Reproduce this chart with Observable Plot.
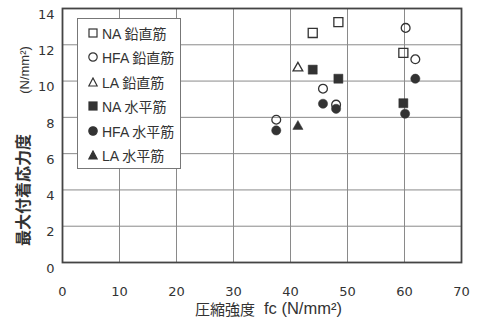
<!DOCTYPE html>
<html><head><meta charset="utf-8">
<script src="https://cdn.jsdelivr.net/npm/d3@7"></script>
<script src="https://cdn.jsdelivr.net/npm/@observablehq/plot@0.6"></script>
<style>
body{margin:0;background:#fff;}
#wrap{position:relative;width:477px;height:320px;overflow:hidden;}
#legend{position:absolute;left:77px;top:18px;width:104px;height:151px;background:#fff;border:1px solid #777;box-sizing:border-box;font-family:"Liberation Sans","Noto Sans CJK JP",sans-serif;font-size:14px;color:#333;}
.row{position:absolute;left:10px;height:18px;display:flex;align-items:center;white-space:nowrap;}
.row svg{margin-right:4px;}
.ttl{position:absolute;white-space:nowrap;line-height:1;color:#333;}
.rot{transform:translate(-50%,-50%) rotate(-90deg);}
</style></head><body><div id="wrap"></div>
<script>
// Data (compressive strength fc, max bond stress τ)
const naV_fc  = [43.9, 48.4, 59.8];
const naV_tau = [12.65, 13.25, 11.55];
const hfaV_fc  = [37.5, 45.7, 48.0, 60.2, 61.9];
const hfaV_tau = [7.87, 9.58, 8.7, 12.93, 11.2];
const laV_fc  = [41.3];
const laV_tau = [10.72];
const naH_fc  = [43.9, 48.4, 59.8];
const naH_tau = [10.63, 10.13, 8.78];
const hfaH_fc  = [37.5, 45.7, 48.0, 60.1, 61.9];
const hfaH_tau = [7.28, 8.75, 8.47, 8.2, 10.13];
const laH_fc  = [41.3];
const laH_tau = [7.5];

const seriesNames = ["NA 鉛直筋", "HFA 鉛直筋", "LA 鉛直筋", "NA 水平筋", "HFA 水平筋", "LA 水平筋"];
const xTicks = [0, 10, 20, 30, 40, 50, 60, 70];
const yTicks = [0, 2, 4, 6, 8, 10, 12, 14];
const xTitleA = "圧縮強度";
const xTitleB = "fc (N/mm²)";
const yTitleA = "最大付着応力度";
const yTitleB = "(N/mm²)";

const toRows = (xs, ys) => xs.map((x, i) => ({fc: x, tau: ys[i]}));
const series = [
  {data: toRows(naV_fc, naV_tau), symbol: "square", filled: false, r: 5.1},
  {data: toRows(hfaV_fc, hfaV_tau), symbol: "circle", filled: false, r: 4.4},
  {data: toRows(laV_fc, laV_tau), symbol: "triangle", filled: false, r: 3.6},
  {data: toRows(naH_fc, naH_tau), symbol: "square", filled: true, r: 5.1},
  {data: toRows(hfaH_fc, hfaH_tau), symbol: "circle", filled: true, r: 4.6},
  {data: toRows(laH_fc, laH_tau), symbol: "triangle", filled: true, r: 3.8}
];

const ink = "#333";
const numFont = "'DejaVu Sans', sans-serif";

const dotMarks = series.map(s => Plot.dot(s.data, {
  x: "fc", y: "tau", symbol: () => s.symbol, r: s.r,
  fill: s.filled ? ink : "none",
  stroke: ink, strokeWidth: s.filled ? 0.5 : 1.3
}));

const chart = Plot.plot({
  width: 477, height: 320,
  marginLeft: 62, marginRight: 16, marginTop: 8, marginBottom: 58,
  x: {domain: [0, 70]},
  y: {domain: [0, 14]},
  symbol: {type: "identity"},
  style: {fontFamily: numFont, fontSize: "13px", color: ink, background: "#fff"},
  marks: [
    Plot.gridX(xTicks.slice(1, -1), {stroke: "#8a8a8a", strokeOpacity: 1, strokeWidth: 1}),
    Plot.gridY(yTicks.slice(1, -1), {stroke: "#8a8a8a", strokeOpacity: 1, strokeWidth: 1}),
    Plot.frame({stroke: "#444", strokeWidth: 1.8}),
    Plot.axisX(xTicks, {tickSize: 0, tickPadding: 24, label: null, fontSize: 13, fill: ink}),
    Plot.axisY(yTicks, {tickSize: 0, tickPadding: 8, dy: 6, label: null, fontSize: 13, fill: ink}),
    ...dotMarks
  ]
});

const wrap = document.getElementById("wrap");
wrap.appendChild(chart);

// Axis titles
function addTitle(html, css, cls) {
  const d = document.createElement("div");
  d.className = "ttl " + (cls || "");
  d.innerHTML = html;
  Object.assign(d.style, css);
  wrap.appendChild(d);
}
addTitle(`<span style="font-family:'Noto Sans CJK JP';font-size:15px">${xTitleA}</span><span style="font-family:'Liberation Sans';font-size:16.5px;margin-left:9px">${xTitleB}</span>`,
  {left: "195px", top: "300px", display: "flex", alignItems: "center", height: "17px"});
addTitle(`<span style="font-family:'Noto Sans CJK JP';font-size:16px;font-weight:bold">${yTitleA}</span>`,
  {left: "23px", top: "190px"}, "rot");
addTitle(`<span style="font-family:'Liberation Sans';font-size:13px">${yTitleB}</span>`,
  {left: "24px", top: "70px"}, "rot");

// Legend
const legend = document.createElement("div");
legend.id = "legend";
const symSvg = (s) => {
  const c = ink;
  const f = s.filled ? c : "none";
  let shape;
  if (s.symbol === "square") shape = `<rect x="1" y="1" width="8" height="8" fill="${f}" stroke="${c}" stroke-width="1.2"/>`;
  else if (s.symbol === "circle") shape = `<circle cx="5" cy="5" r="4.2" fill="${f}" stroke="${c}" stroke-width="1.2"/>`;
  else shape = `<path d="M5,1 L9.2,9 L0.8,9 Z" fill="${f}" stroke="${c}" stroke-width="1.2"/>`;
  return `<svg width="10" height="10" viewBox="0 0 10 10">${shape}</svg>`;
};
seriesNames.forEach((name, i) => {
  const row = document.createElement("div");
  row.className = "row";
  row.style.top = (14 + i * 24.4 - 9) + "px";
  row.innerHTML = symSvg(series[i]) + `<span>${name}</span>`;
  legend.appendChild(row);
});
wrap.appendChild(legend);
</script>
</body></html>
